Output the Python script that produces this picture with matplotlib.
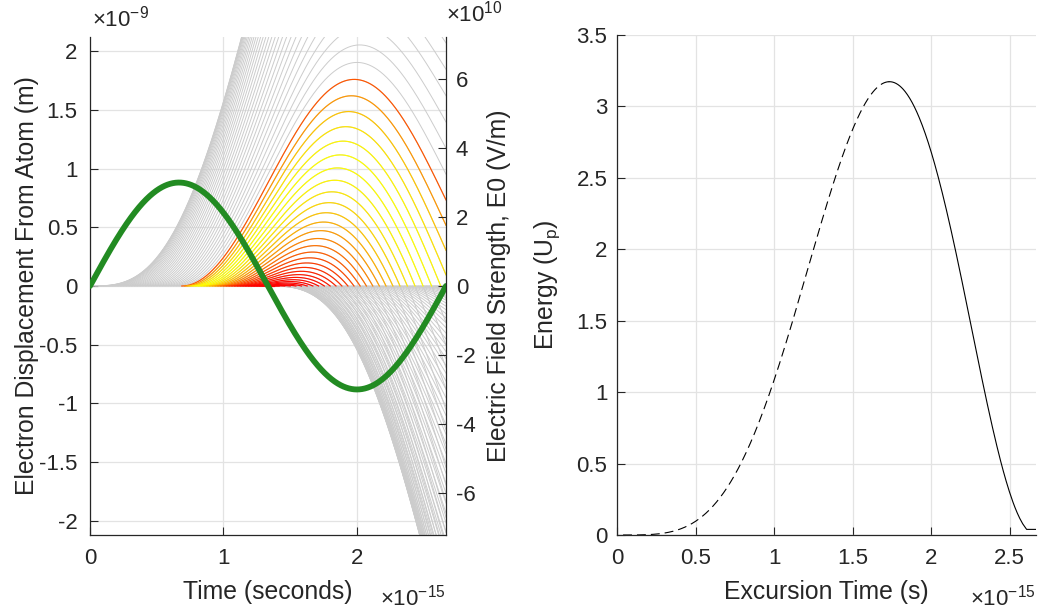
import numpy as np
import matplotlib.pyplot as plt
from matplotlib.ticker import FuncFormatter

plt.rcParams['font.family'] = ['Liberation Sans', 'DejaVu Sans']
plt.rcParams['mathtext.fontset'] = 'custom'
plt.rcParams['mathtext.rm'] = 'Liberation Sans'
plt.rcParams['mathtext.it'] = 'Liberation Sans:italic'

# drive laser and electron
wavelength = 800e-9        # m  -> one cycle = 2.67 fs on the time axis
E0 = 3e10                  # V/m, peak of the green field curve
q_over_m = 1.758820e11     # C/kg
c_light = 2.99792458e8

n_births = 128             # birth times per cycle for the trajectory fan
n_fine = 4000              # birth times per cycle for the energy curve

disp_lim = 2.12e-9
field_lim = 7.22e10
time_ticks = [0, 1, 2]                          # x 1e-15
disp_ticks = [-2, -1.5, -1, -0.5, 0, 0.5, 1, 1.5, 2]   # x 1e-9
field_ticks = [-6, -4, -2, 0, 2, 4, 6]          # x 1e10
exc_ticks = [0, 0.5, 1, 1.5, 2, 2.5]            # x 1e-15
energy_ticks = [0, 0.5, 1, 1.5, 2, 2.5, 3, 3.5]
energy_lim = 3.5

T = wavelength / c_light
w = 2 * np.pi / T
A = q_over_m * E0 / w**2


def displacement(t, t0):
    return A * (np.sin(w * t0) - np.sin(w * t) + w * (t - t0) * np.cos(w * t0))


def return_time(t0):
    # first time after birth the electron is back at x = 0
    t = np.linspace(t0 + T * 1e-4, t0 + 1.2 * T, 6000)
    x = displacement(t, t0)
    idx = np.where((x[:-1] > 0) & (x[1:] <= 0))[0]
    if len(idx) == 0:
        return None
    i = idx[0]
    lo, hi = t[i], t[i + 1]
    for _ in range(40):
        mid = 0.5 * (lo + hi)
        if displacement(mid, t0) > 0:
            lo = mid
        else:
            hi = mid
    return 0.5 * (lo + hi)


def return_energy(t0, tr):
    # kinetic energy at return, in units of Up
    return 2 * (np.cos(w * t0) - np.cos(w * tr)) ** 2


# ---------------- energy vs excursion time ----------------
fine_births = T / 4 + np.arange(1, n_fine // 4) * T / n_fine
exc, energy = [], []
for t0 in fine_births:
    tr = return_time(t0)
    if tr is None:
        continue
    exc.append(tr - t0)
    energy.append(return_energy(t0, tr))
exc = np.array(exc)
energy = np.array(energy)
e_max = energy.max()
i_max = np.argmax(energy)

# ---------------- figure ----------------
fig = plt.figure(figsize=(10.38, 6.12), dpi=100)
ink = '#262626'
grid_c = '#e3e3e3'
tick_fs = 16
label_fs = 17.8

ax = fig.add_axes([90 / 1038, 77 / 612, 356 / 1038, 498 / 612])
ax2 = ax.twinx()

births = np.arange(n_births) * T / n_births
cmap = plt.get_cmap('autumn')
colored = []
for t0 in births:
    t = np.linspace(t0, T, 600)
    ax.plot(t, displacement(t, t0), color='#cccccc', lw=0.7)
    if T / 4 < t0 < T / 2:
        colored.append(t0)
for t0 in colored:
    tr = return_time(t0)
    e = return_energy(t0, tr)
    t = np.linspace(t0, min(tr, T), 600)
    ax.plot(t, displacement(t, t0), color=cmap(e / e_max), lw=0.85)

tt = np.linspace(0, T, 800)
ax2.plot(tt, E0 * np.sin(w * tt), color='#228b22', lw=4.2, solid_capstyle='round')

ax.set_xlim(0, T)
ax.set_ylim(-disp_lim, disp_lim)
ax2.set_ylim(-field_lim, field_lim)
ax.set_xticks(np.array(time_ticks) * 1e-15)
ax.set_yticks(np.array(disp_ticks) * 1e-9)
ax2.set_yticks(np.array(field_ticks) * 1e10)
ax.xaxis.set_major_formatter(FuncFormatter(lambda v, p: '%g' % round(v / 1e-15, 6)))
ax.yaxis.set_major_formatter(FuncFormatter(lambda v, p: '%g' % round(v / 1e-9, 6)))
ax2.yaxis.set_major_formatter(FuncFormatter(lambda v, p: '%g' % round(v / 1e10, 6)))
ax.grid(True, color=grid_c, lw=0.9)
ax.set_axisbelow(True)
for a in (ax, ax2):
    a.spines['top'].set_visible(False)
    for s in a.spines.values():
        s.set_color(ink)
        s.set_linewidth(0.9)
    a.tick_params(direction='in', length=6, width=0.8, colors=ink, labelsize=tick_fs)
ax.tick_params(axis='x', pad=9)
ax.tick_params(axis='y', pad=9)
ax2.tick_params(axis='y', pad=7)
ax.spines['right'].set_visible(False)
ax2.spines['left'].set_visible(False)
ax2.spines['bottom'].set_visible(False)
ax.set_xlabel('Time (seconds)', fontsize=label_fs, color=ink, labelpad=8)
ax.set_ylabel('Electron Displacement From Atom (m)', fontsize=label_fs, color=ink, labelpad=0)
ax2.set_ylabel('Electric Field Strength, E0 (V/m)', fontsize=label_fs, color=ink, labelpad=8)
ax.text(0.005, 1.012, r'$\times10^{-9}$', transform=ax.transAxes, fontsize=tick_fs,
        color=ink, ha='left', va='bottom')
ax.text(1.0, 1.022, r'$\times10^{10}$', transform=ax.transAxes, fontsize=tick_fs,
        color=ink, ha='left', va='bottom')
ax.text(1.0, -0.1, r'$\times10^{-15}$', transform=ax.transAxes, fontsize=tick_fs,
        color=ink, ha='right', va='top')

# ---------------- right panel ----------------
bx = fig.add_axes([617 / 1038, 77 / 612, 419 / 1038, 500 / 612])
short = exc <= exc[i_max]
bx.plot(exc[short], energy[short], color='black', lw=0.8, dashes=(8, 4.5))
order = np.argsort(exc[~short])
lx = np.append(exc[~short][order], T)
ly = np.append(energy[~short][order], energy[~short][order][-1])
bx.plot(np.append(exc[i_max], lx), np.append(energy[i_max], ly), color='black', lw=0.8)
bx.set_xlim(0, T)
bx.set_ylim(0, energy_lim)
bx.set_xticks(np.array(exc_ticks) * 1e-15)
bx.set_yticks(energy_ticks)
bx.xaxis.set_major_formatter(FuncFormatter(lambda v, p: '%g' % round(v / 1e-15, 6)))
bx.yaxis.set_major_formatter(FuncFormatter(lambda v, p: '%g' % v))
bx.grid(True, color=grid_c, lw=0.9)
bx.set_axisbelow(True)
bx.spines['top'].set_visible(False)
bx.spines['right'].set_visible(False)
for s in bx.spines.values():
    s.set_color(ink)
    s.set_linewidth(0.9)
bx.tick_params(direction='in', length=6, width=0.8, colors=ink, labelsize=tick_fs)
bx.tick_params(axis='x', pad=9)
bx.tick_params(axis='y', pad=7)
bx.set_xlabel('Excursion Time (s)', fontsize=label_fs, color=ink, labelpad=8)
bx.set_ylabel(r'Energy (U$_{\mathrm{p}}$)', fontsize=label_fs, color=ink, labelpad=10)
bx.text(1.0, -0.1, r'$\times10^{-15}$', transform=bx.transAxes, fontsize=tick_fs,
        color=ink, ha='right', va='top')

fig.savefig('out.png', dpi=100)
